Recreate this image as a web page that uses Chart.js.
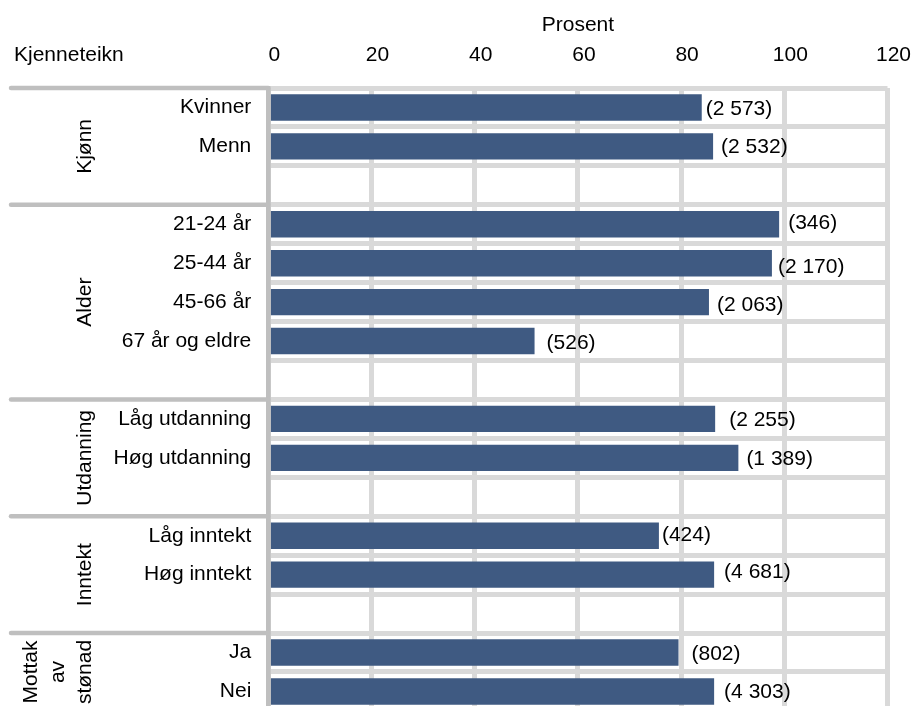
<!DOCTYPE html>
<html>
<head>
<meta charset="utf-8">
<script src="https://cdn.jsdelivr.net/npm/chart.js@4.4.1/dist/chart.umd.min.js"></script>
<style>
  html, body { margin: 0; padding: 0; background: #fff; overflow: hidden; }
  #outer { width: 914px; height: 706px; overflow: hidden; position: relative; }
  canvas { position: absolute; left: 0; top: 0; }
</style>
</head>
<body>
<div id="outer"><canvas id="c" width="914" height="714" style="width:914px;height:714px"></canvas></div>
<script>
// ---- data ----
const categories = ['Kvinner', 'Menn', '', '21-24 år', '25-44 år', '45-66 år', '67 år og eldre', '',
  'Låg utdanning', 'Høg utdanning', '', 'Låg inntekt', 'Høg inntekt', '', 'Ja', 'Nei'];
const percentValues = [84.0, 86.2, null, 99.0, 97.6, 85.4, 51.6, null,
  86.6, 91.1, null, 75.7, 86.4, null, 79.5, 86.4];
const respondentCounts = [2573, 2532, null, 346, 2170, 2063, 526, null,
  2255, 1389, null, 424, 4681, null, 802, 4303];
const groupLabels = [['Kjønn'], ['Alder'], ['Utdanning'], ['Inntekt'], ['Mottak', 'av', 'stønad']];
const groupFirstIndex = [0, 3, 8, 11, 14];
const groupLastIndex = [2, 7, 10, 13, 15];
const xTickValues = [0, 20, 40, 60, 80, 100, 120];
const axisTitle = 'Prosent';
const rowHeaderTitle = 'Kjenneteikn';

// ---- style ----
const FONT = "'Liberation Sans', Arial, sans-serif";
const FS = 21;
const BAR = '#3f5a82';
const GRID = '#d9d9d9';
const AXIS = '#bfbfbf';
// label nudges relative to bar end (px)
const labelDx = [4, 8, 0, 9, 6, 8, 12, 0, 14, 8, 0, 3, 10, 0, 13, 10];
const labelDy = [2, 1, 0, -1, 4, 3, 2, 0, 1, 1, 0, -1, -2, 0, 2, 1];

Chart.defaults.font.family = FONT;
Chart.defaults.font.size = FS;
Chart.defaults.color = '#000';

function fmt(n) { return '(' + String(n).replace(/\B(?=(\d{3})+(?!\d))/g, ' ') + ')'; }

const overlay = {
  id: 'overlay',
  afterDatasetsDraw(chart) {
    const ctx = chart.ctx;
    const meta = chart.getDatasetMeta(0);
    ctx.save();
    ctx.font = FS + 'px ' + FONT;
    ctx.fillStyle = '#000';
    ctx.textAlign = 'left';
    ctx.textBaseline = 'middle';
    meta.data.forEach((bar, i) => {
      if (respondentCounts[i] == null || percentValues[i] == null) return;
      ctx.fillText(fmt(respondentCounts[i]), bar.x + labelDx[i], bar.y + labelDy[i]);
    });
    ctx.restore();
  },
  afterDraw(chart) {
    const ctx = chart.ctx;
    const ys = chart.scales.y;
    const ca = chart.chartArea;
    const step = ys.getPixelForValue(1) - ys.getPixelForValue(0);
    ctx.save();
    ctx.font = FS + 'px ' + FONT;
    ctx.fillStyle = '#000';
    ctx.textAlign = 'left';
    ctx.textBaseline = 'middle';
    ctx.fillText(rowHeaderTitle, 14, 55.5);
    ctx.strokeStyle = AXIS;
    ctx.lineWidth = 4.5;
    ctx.lineCap = 'round';
    groupFirstIndex.forEach((g) => {
      const y = ys.getPixelForValue(g) - step / 2;
      ctx.beginPath();
      ctx.moveTo(11, y);
      ctx.lineTo(ca.left, y);
      ctx.stroke();
    });
    ctx.textAlign = 'center';
    ctx.textBaseline = 'alphabetic';
    groupLabels.forEach((lines, k) => {
      const yTop = ys.getPixelForValue(groupFirstIndex[k]) - step / 2;
      const yBot = ys.getPixelForValue(groupLastIndex[k]) + step / 2;
      const yc = (yTop + yBot) / 2;
      const n = lines.length;
      lines.forEach((t, j) => {
        const xb = 90.7 - (n - 1 - j) * 27;
        ctx.save();
        ctx.translate(xb, yc);
        ctx.rotate(-Math.PI / 2);
        ctx.fillText(t, 0, 0);
        ctx.restore();
      });
    });
    ctx.restore();
  }
};

new Chart(document.getElementById('c'), {
  type: 'bar',
  data: {
    labels: categories,
    datasets: [{
      data: percentValues,
      backgroundColor: BAR,
      borderWidth: 0,
      barPercentage: 0.678,
      categoryPercentage: 1.0
    }]
  },
  options: {
    indexAxis: 'y',
    responsive: false,
    maintainAspectRatio: false,
    devicePixelRatio: 1,
    animation: false,
    events: [],
    layout: { padding: { left: 0, right: 26.5, top: 0, bottom: 3.1 } },
    plugins: { legend: { display: false }, tooltip: { enabled: false } },
    scales: {
      x: {
        position: 'top',
        min: 0,
        max: 120,
        afterBuildTicks: (s) => { s.ticks = xTickValues.map(v => ({ value: v })); },
        afterFit: (s) => { s.height = 88; s.paddingLeft = 0; s.paddingRight = 0; },
        ticks: { padding: 20, labelOffset: 6, color: '#000', font: { size: FS } },
        grid: { color: GRID, lineWidth: 5, drawTicks: false },
        border: { display: false },
        title: { display: true, text: axisTitle, color: '#000', font: { size: FS }, padding: { top: 13, bottom: 0 } }
      },
      y: {
        afterFit: (s) => { s.width = 268.3; s.paddingTop = 0; s.paddingBottom = 0; },
        ticks: { padding: 17, autoSkip: false, color: '#000', font: { size: FS } },
        grid: { color: GRID, lineWidth: 5, drawTicks: false, offset: true },
        border: { display: true, color: AXIS, width: 4.7, z: 1 }
      }
    }
  },
  plugins: [overlay]
});
</script>
</body>
</html>
